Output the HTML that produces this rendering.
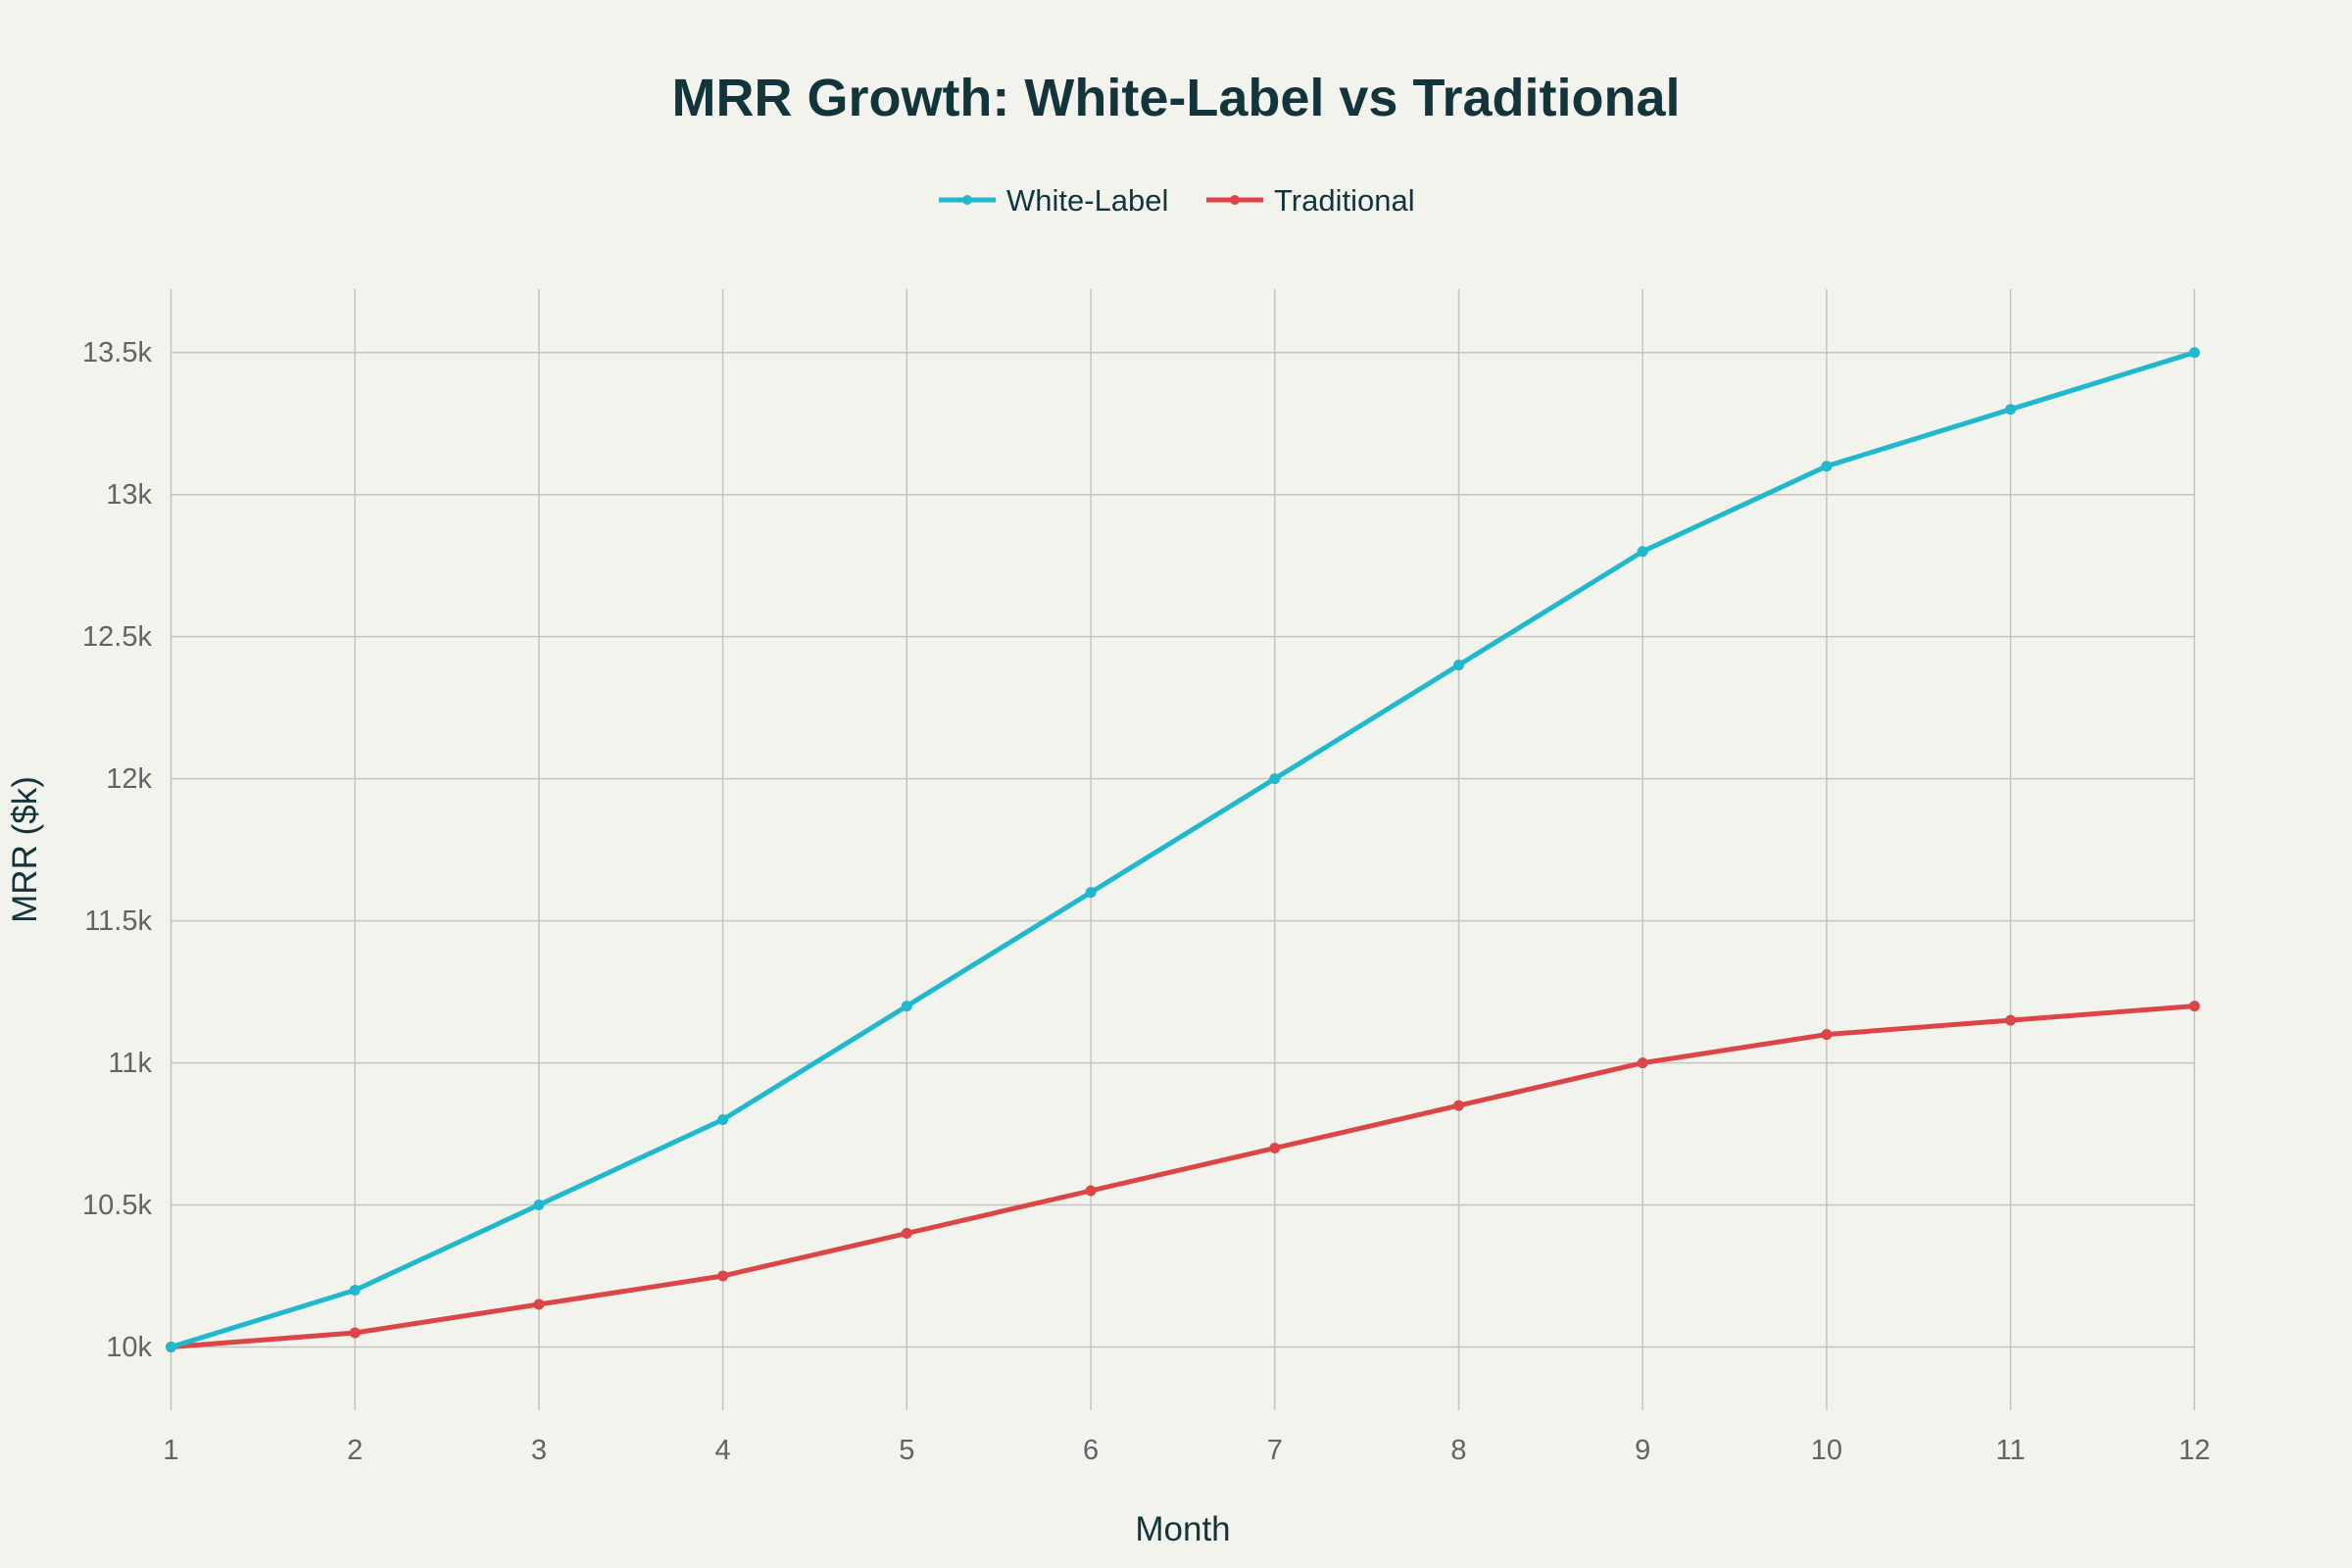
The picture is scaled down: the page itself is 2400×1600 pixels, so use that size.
<!DOCTYPE html>
<html><head><meta charset="utf-8"><style>
html,body{margin:0;padding:0;background:#F3F3EE;}
svg{display:block;font-family:"Liberation Sans",sans-serif;}
</style></head><body>
<svg width="2400" height="1600" viewBox="0 0 2400 1600">
<rect width="2400" height="1600" fill="#F3F3EE"/>
<g stroke="#c4c4bf" stroke-width="1.5">
<line x1="174.5" y1="1374.5" x2="2239.3" y2="1374.5"/>
<line x1="174.5" y1="1229.5" x2="2239.3" y2="1229.5"/>
<line x1="174.5" y1="1084.6" x2="2239.3" y2="1084.6"/>
<line x1="174.5" y1="939.6" x2="2239.3" y2="939.6"/>
<line x1="174.5" y1="794.6" x2="2239.3" y2="794.6"/>
<line x1="174.5" y1="649.6" x2="2239.3" y2="649.6"/>
<line x1="174.5" y1="504.7" x2="2239.3" y2="504.7"/>
<line x1="174.5" y1="359.7" x2="2239.3" y2="359.7"/>
</g>
<g stroke="#c4c4bf" stroke-width="1.5">
<line x1="174.5" y1="295" x2="174.5" y2="1439"/><line x1="362.2" y1="295" x2="362.2" y2="1439"/>
<line x1="549.9" y1="295" x2="549.9" y2="1439"/><line x1="737.6" y1="295" x2="737.6" y2="1439"/>
<line x1="925.3" y1="295" x2="925.3" y2="1439"/><line x1="1113.1" y1="295" x2="1113.1" y2="1439"/>
<line x1="1300.8" y1="295" x2="1300.8" y2="1439"/><line x1="1488.5" y1="295" x2="1488.5" y2="1439"/>
<line x1="1676.2" y1="295" x2="1676.2" y2="1439"/><line x1="1863.9" y1="295" x2="1863.9" y2="1439"/>
<line x1="2051.6" y1="295" x2="2051.6" y2="1439"/><line x1="2239.3" y1="295" x2="2239.3" y2="1439"/>
</g>
<text x="1200" y="118" text-anchor="middle" font-size="54" font-weight="bold" fill="#13343B">MRR Growth: White-Label vs Traditional</text>
<line x1="958" y1="204" x2="1016" y2="204" stroke="#1FB8CD" stroke-width="5"/><circle cx="987" cy="204" r="5" fill="#1FB8CD"/>
<text x="1027" y="215" font-size="31" fill="#13343B">White-Label</text>
<line x1="1231" y1="204" x2="1289" y2="204" stroke="#DB4545" stroke-width="5"/><circle cx="1260" cy="204" r="5" fill="#DB4545"/>
<text x="1300" y="215" font-size="31" fill="#13343B">Traditional</text>
<g font-size="29" fill="#5f6466" text-anchor="end">
<text x="155" y="1384">10k</text><text x="155" y="1239">10.5k</text><text x="155" y="1094">11k</text>
<text x="155" y="949">11.5k</text><text x="155" y="804">12k</text><text x="155" y="659">12.5k</text>
<text x="155" y="514">13k</text><text x="155" y="369">13.5k</text>
</g>
<g font-size="29" fill="#5f6466" text-anchor="middle">
<text x="174.5" y="1489">1</text><text x="362.2" y="1489">2</text><text x="549.9" y="1489">3</text>
<text x="737.6" y="1489">4</text><text x="925.3" y="1489">5</text><text x="1113.1" y="1489">6</text>
<text x="1300.8" y="1489">7</text><text x="1488.5" y="1489">8</text><text x="1676.2" y="1489">9</text>
<text x="1863.9" y="1489">10</text><text x="2051.6" y="1489">11</text><text x="2239.3" y="1489">12</text>
</g>
<text x="1207" y="1572" text-anchor="middle" font-size="35" fill="#13343B">Month</text>
<text transform="translate(37,867) rotate(-90)" text-anchor="middle" font-size="35" fill="#13343B">MRR ($k)</text>
<polyline fill="none" stroke="#DB4545" stroke-width="5" stroke-linejoin="round" points="174.5,1374.5 362.2,1360 549.9,1331 737.6,1302 925.3,1258.5 1113.1,1215 1300.8,1171.5 1488.5,1128.1 1676.2,1084.6 1863.9,1055.6 2051.6,1041.1 2239.3,1026.6"/>
<g fill="#DB4545">
<circle cx="174.5" cy="1374.5" r="5.5"/><circle cx="362.2" cy="1360" r="5.5"/><circle cx="549.9" cy="1331" r="5.5"/><circle cx="737.6" cy="1302" r="5.5"/><circle cx="925.3" cy="1258.5" r="5.5"/><circle cx="1113.1" cy="1215" r="5.5"/><circle cx="1300.8" cy="1171.5" r="5.5"/><circle cx="1488.5" cy="1128.1" r="5.5"/><circle cx="1676.2" cy="1084.6" r="5.5"/><circle cx="1863.9" cy="1055.6" r="5.5"/><circle cx="2051.6" cy="1041.1" r="5.5"/><circle cx="2239.3" cy="1026.6" r="5.5"/>
</g>
<polyline fill="none" stroke="#1FB8CD" stroke-width="5" stroke-linejoin="round" points="174.5,1374.5 362.2,1316.5 549.9,1229.5 737.6,1142.5 925.3,1026.6 1113.1,910.6 1300.8,794.6 1488.5,678.6 1676.2,562.7 1863.9,475.7 2051.6,417.7 2239.3,359.7"/>
<g fill="#1FB8CD">
<circle cx="174.5" cy="1374.5" r="5.5"/><circle cx="362.2" cy="1316.5" r="5.5"/><circle cx="549.9" cy="1229.5" r="5.5"/><circle cx="737.6" cy="1142.5" r="5.5"/><circle cx="925.3" cy="1026.6" r="5.5"/><circle cx="1113.1" cy="910.6" r="5.5"/><circle cx="1300.8" cy="794.6" r="5.5"/><circle cx="1488.5" cy="678.6" r="5.5"/><circle cx="1676.2" cy="562.7" r="5.5"/><circle cx="1863.9" cy="475.7" r="5.5"/><circle cx="2051.6" cy="417.7" r="5.5"/><circle cx="2239.3" cy="359.7" r="5.5"/>
</g>
</svg>
</body></html>
